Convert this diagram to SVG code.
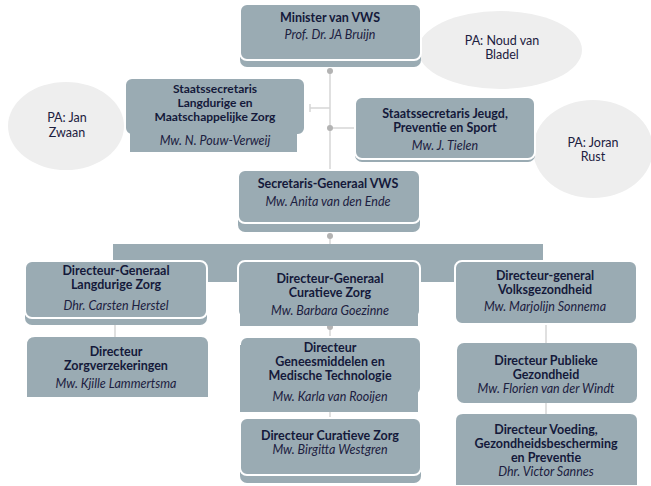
<svg xmlns="http://www.w3.org/2000/svg" width="651" height="486" viewBox="0 0 651 486">
<style>
.bx{fill:#9aabb3}
.fr{fill:#9aabb3;stroke:#ffffff;stroke-width:2}
.pa{fill:#eeeeee}
.t{font-family:Lato,"Open Sans",sans-serif;font-size:12.5px;font-weight:bold;fill:#14193a;text-anchor:middle}
.s{font-size:12px}
.i{font-family:Lato,"Open Sans",sans-serif;font-size:12.5px;font-style:italic;fill:#1c2040;text-anchor:middle}
.p{font-family:Lato,"Open Sans",sans-serif;font-size:12.5px;fill:#1c2040;text-anchor:middle}
.ln{stroke:#d6d6d6;stroke-width:1.5;fill:none}
.dot{fill:#b3b3b3}
</style>
<rect width="651" height="486" fill="#ffffff"/>
<g id="pa-noud"><ellipse class="pa" cx="500" cy="50" rx="82" ry="39"/><text class="p" x="502" y="45">PA: Noud van</text><text class="p" x="502" y="59">Bladel</text></g>
<g id="pa-jan"><ellipse class="pa" cx="66" cy="126" rx="58" ry="44"/><text class="p" x="67" y="122">PA: Jan</text><text class="p" x="67" y="137">Zwaan</text></g>
<g id="pa-joran"><ellipse class="pa" cx="593" cy="149" rx="60" ry="49"/><text class="p" x="593" y="147">PA: Joran</text><text class="p" x="593" y="161">Rust</text></g>
<g id="connectors">
<rect class="bx" x="113" y="244" width="430" height="38"/>
<line class="ln" x1="330" y1="70" x2="330" y2="170"/>
<line class="ln" x1="310" y1="108" x2="330" y2="108"/>
<line class="ln" x1="310" y1="104" x2="310" y2="112"/>
<line class="ln" x1="330" y1="128" x2="355" y2="128"/>
<line class="ln" x1="330" y1="236" x2="330" y2="244"/>
<line class="ln" x1="115" y1="322" x2="115" y2="338"/>
<line class="ln" x1="330" y1="327" x2="330" y2="338"/>
<line class="ln" x1="330" y1="411" x2="330" y2="419"/>
<line class="ln" x1="546" y1="324" x2="546" y2="344"/>
<line class="ln" x1="546" y1="403" x2="546" y2="414"/>
<circle class="dot" cx="330" cy="71" r="3"/>
<circle class="dot" cx="330" cy="128" r="3"/>
<circle class="dot" cx="330" cy="236" r="3"/>
<circle class="dot" cx="115" cy="322" r="3"/>
<circle class="dot" cx="330" cy="327" r="3"/>
</g>
<g id="minister"><rect class="bx" x="240" y="10" width="181" height="57" rx="7"/><rect class="fr" x="240" y="4" width="181" height="56" rx="7"/><text class="t" x="330" y="22">Minister van VWS</text><text class="i" x="330" y="39">Prof. Dr. JA Bruijn</text></g>
<g id="ss-lmz"><rect class="fr" x="125" y="78" width="180" height="57" rx="7"/><rect class="bx" x="130" y="128" width="167" height="24"/><text class="t s" x="215" y="93">Staatssecretaris</text><text class="t s" x="215" y="107">Langdurige en</text><text class="t s" x="215" y="121">Maatschappelijke Zorg</text><text class="i" x="215" y="145">Mw. N. Pouw-Verweij</text></g>
<g id="ss-jps"><rect class="bx" x="355" y="100" width="180" height="62" rx="7"/><rect class="fr" x="355" y="97" width="180" height="62" rx="7"/><text class="t" x="445" y="118">Staatssecretaris Jeugd,</text><text class="t" x="445" y="132">Preventie en Sport</text><text class="i" x="445" y="150">Mw. J. Tielen</text></g>
<g id="sg"><rect class="bx" x="238" y="176" width="182" height="56" rx="7"/><rect class="fr" x="238" y="170" width="182" height="53" rx="7"/><text class="t" x="328" y="188">Secretaris-Generaal VWS</text><text class="i" x="328" y="206">Mw. Anita van den Ende</text></g>
<g id="dg-lz"><rect class="bx" x="25" y="266" width="182" height="59" rx="7"/><rect class="fr" x="25" y="261" width="182" height="57" rx="7"/><text class="t" x="116" y="275">Directeur-Generaal</text><text class="t" x="116" y="289">Langdurige Zorg</text><text class="i" x="116" y="310">Dhr. Carsten Herstel</text></g>
<g id="dg-cz"><rect class="fr" x="238" y="261" width="182" height="57" rx="7"/><rect class="bx" x="240" y="300" width="178" height="26"/><text class="t" x="330" y="283">Directeur-Generaal</text><text class="t" x="330" y="297">Curatieve Zorg</text><text class="i" x="330" y="315">Mw. Barbara Goezinne</text></g>
<g id="dg-vg"><rect class="fr" x="455" y="261" width="182" height="63" rx="7"/><text class="t" x="545" y="280">Directeur-general</text><text class="t" x="545" y="294">Volksgezondheid</text><text class="i" x="545" y="311">Mw. Marjolijn Sonnema</text></g>
<g id="dir-zv"><path class="bx" d="M27 345 Q27 337 35 337 L201 337 Q208 337 208 345 L208 397 L27 397 Z"/><text class="t" x="116" y="356">Directeur</text><text class="t" x="116" y="370">Zorgverzekeringen</text><text class="i" x="116" y="388">Mw. Kjille Lammertsma</text></g>
<g id="dir-gmt"><rect class="fr" x="240" y="337" width="181" height="58" rx="7"/><rect class="bx" x="240" y="345" width="178" height="67"/><text class="t" x="330" y="352">Directeur</text><text class="t" x="330" y="366">Geneesmiddelen en</text><text class="t" x="330" y="380">Medische Technologie</text><text class="i" x="330" y="401">Mw. Karla van Rooijen</text></g>
<g id="dir-cz"><rect class="bx" x="240" y="425" width="181" height="58" rx="7"/><rect class="fr" x="240" y="418" width="181" height="57" rx="7"/><text class="t" x="330" y="440">Directeur Curatieve Zorg</text><text class="i" x="330" y="454">Mw. Birgitta Westgren</text></g>
<g id="dir-pg"><rect class="bx" x="457" y="343" width="180" height="60" rx="7"/><text class="t" x="546" y="365">Directeur Publieke</text><text class="t" x="546" y="379">Gezondheid</text><text class="i" x="546" y="393">Mw. Florien van der Windt</text></g>
<g id="dir-vgp"><path class="bx" d="M456 421 Q456 414 463 414 L630 414 Q637 414 637 421 L637 485 L456 485 Z"/><text class="t" x="546" y="434">Directeur Voeding,</text><text class="t" x="546" y="448">Gezondheidsbescherming</text><text class="t" x="546" y="462">en Preventie</text><text class="i" x="546" y="476">Dhr. Victor Sannes</text></g>
</svg>
